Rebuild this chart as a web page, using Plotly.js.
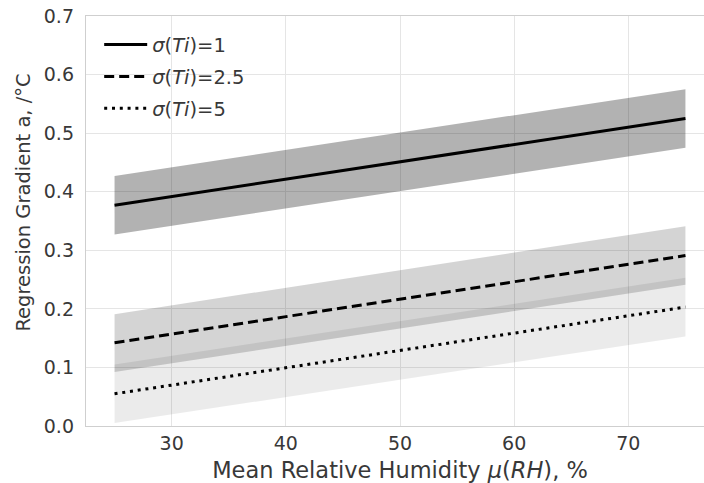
<!DOCTYPE html>
<html>
<head>
<meta charset="utf-8">
<script src="https://cdn.plot.ly/plotly-3.0.1.min.js"></script>
<style>
html, body { margin: 0; padding: 0; overflow: hidden; background: #fff; }
#chart { width: 714px; height: 483px; }
</style>
</head>
<body>
<div id="chart"></div>
<script>
// Mean relative humidity (x) at the ends of each fitted line
const humidity = [25, 75];

// sigma(Ti) = 1
const mean1  = [0.377, 0.525];
const lower1 = [0.327, 0.475];
const upper1 = [0.427, 0.575];

// sigma(Ti) = 2.5
const mean2  = [0.142, 0.291];
const lower2 = [0.092, 0.241];
const upper2 = [0.191, 0.341];

// sigma(Ti) = 5
const mean3  = [0.055, 0.203];
const lower3 = [0.005, 0.153];
const upper3 = [0.105, 0.253];

const seriesNames = ['<i>σ</i>(<i>Ti</i>)=1', '<i>σ</i>(<i>Ti</i>)=2.5', '<i>σ</i>(<i>Ti</i>)=5'];
const xTicks = [30, 40, 50, 60, 70];
const yTicks = [0.0, 0.1, 0.2, 0.3, 0.4, 0.5, 0.6, 0.7];

const bandColors = ['rgba(0,0,0,0.30)', 'rgba(0,0,0,0.17)', 'rgba(0,0,0,0.078)'];
const dashes = ['solid', '10px,5px', '3px,4.8px'];

const means = [mean1, mean2, mean3];
const lowers = [lower1, lower2, lower3];
const uppers = [upper1, upper2, upper3];

const traces = [];
for (let i = 0; i < 3; i++) {
  traces.push({
    x: humidity, y: lowers[i], mode: 'lines', line: {width: 0, color: 'rgba(0,0,0,0)'},
    showlegend: false, hoverinfo: 'skip'
  });
  traces.push({
    x: humidity, y: uppers[i], mode: 'lines', line: {width: 0, color: 'rgba(0,0,0,0)'},
    fill: 'tonexty', fillcolor: bandColors[i], showlegend: false, hoverinfo: 'skip'
  });
}
for (let i = 0; i < 3; i++) {
  traces.push({
    x: humidity, y: means[i], mode: 'lines', name: seriesNames[i],
    legendgroup: 'g' + i,
    line: {color: '#000000', width: 3, dash: dashes[i]}
  });
}

const font = {family: '"DejaVu Sans", sans-serif', color: '#383838'};

const layout = {
  width: 714, height: 483,
  margin: {l: 86, r: 0, t: 16, b: 57},
  paper_bgcolor: '#ffffff', plot_bgcolor: '#ffffff',
  font: Object.assign({size: 19}, font),
  showlegend: true,
  legend: {
    x: 0.021, y: 0.977, xanchor: 'left', yanchor: 'top', xref: 'paper', yref: 'paper',
    bgcolor: 'rgba(0,0,0,0)', borderwidth: 0,
    font: Object.assign({size: 19.5}, font),
    itemwidth: 43, tracegroupgap: 3.5, traceorder: 'grouped'
  },
  xaxis: {
    range: [22.5, 77.5], tickvals: xTicks, ticktext: xTicks.map(String),
    showgrid: true, gridcolor: '#e5e5e5', gridwidth: 1,
    showline: true, linecolor: '#cfcfcf', linewidth: 1.2, mirror: true,
    zeroline: false, ticks: '', ticklabelstandoff: 0,
    tickfont: Object.assign({size: 19}, font),
    title: {text: 'Mean Relative Humidity <i>μ</i>(<i>RH</i>), %', font: Object.assign({size: 22.5}, font), standoff: 9}
  },
  yaxis: {
    range: [0, 0.7], tickvals: yTicks, ticktext: yTicks.map(v => v.toFixed(1)),
    showgrid: true, gridcolor: '#e5e5e5', gridwidth: 1,
    showline: true, linecolor: '#cfcfcf', linewidth: 1.2, mirror: true,
    zeroline: false, ticks: '', ticklabelstandoff: 7,
    tickfont: Object.assign({size: 19}, font)
  },
  annotations: [{
    text: 'Regression Gradient a, /°C', textangle: -90,
    xref: 'paper', yref: 'paper', x: 0, y: 0.545, xanchor: 'center', yanchor: 'middle',
    xshift: -62, showarrow: false, font: Object.assign({size: 19.5}, font)
  }]
};

Plotly.newPlot('chart', traces, layout, {staticPlot: true, displayModeBar: false});
</script>
</body>
</html>
